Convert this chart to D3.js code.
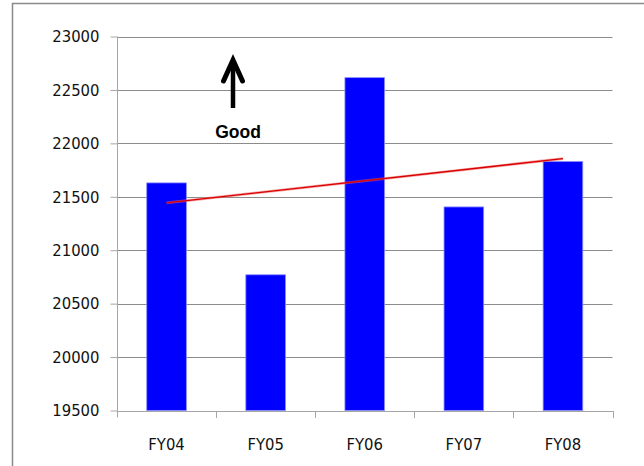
<!DOCTYPE html>
<html>
<head>
<meta charset="utf-8">
<script src="https://cdn.jsdelivr.net/npm/d3@7/dist/d3.min.js"></script>
<style>
  html, body { margin: 0; padding: 0; background: #fff; }
  svg { display: block; }
</style>
</head>
<body>
<script>
// Fiscal-year totals
const categories = ["FY04", "FY05", "FY06", "FY07", "FY08"];
const values = [21630, 20770, 22615, 21405, 21830];
const yTicks = [19500, 20000, 20500, 21000, 21500, 22000, 22500, 23000];
const annotation = ["Good"];

const W = 644, H = 466;
const svg = d3.select("body").append("svg").attr("width", W).attr("height", H);

// outer frame (open on the right and bottom)
svg.append("path")
  .attr("d", `M12.5,${H + 2} V3.5 H${W + 2}`)
  .attr("fill", "none").attr("stroke", "#8a8a8a").attr("stroke-width", 1.5);

const plot = { left: 117, right: 612.5, top: 36.5, bottom: 410.5 };

const x = d3.scaleBand().domain(categories).range([plot.left, plot.right]).padding(0);
const y = d3.scaleLinear().domain([19500, 23000]).range([plot.bottom, plot.top]);

// horizontal gridlines
svg.append("g")
  .selectAll("line").data(yTicks.filter(t => t > 19500)).join("line")
  .attr("x1", plot.left).attr("x2", plot.right)
  .attr("y1", d => Math.round(y(d)) + 0.5).attr("y2", d => Math.round(y(d)) + 0.5)
  .attr("stroke", "#8c8c8c").attr("stroke-width", 1);

// value axis
const yAxis = svg.append("g")
  .attr("transform", `translate(${plot.left + 0.5},0)`)
  .call(d3.axisLeft(y).tickValues(yTicks).tickFormat(d3.format("d"))
    .tickSizeInner(7).tickSizeOuter(0).tickPadding(11));
yAxis.select(".domain").attr("stroke", "#a6a6a6").attr("d", `M0,${plot.top} V${plot.bottom + 7}`);
yAxis.selectAll(".tick line").attr("stroke", "#a6a6a6");
yAxis.selectAll("text")
  .attr("font-family", "'DejaVu Sans Condensed', 'DejaVu Sans', sans-serif")
  .attr("font-size", 16.5).attr("fill", "#111");

// bars
const barW = x.bandwidth() * 0.4;
svg.append("g")
  .selectAll("rect").data(values).join("rect")
  .attr("x", (d, i) => x(categories[i]) + (x.bandwidth() - barW) / 2)
  .attr("width", barW)
  .attr("y", d => y(d))
  .attr("height", d => y(19500) - y(d))
  .attr("fill", "#0000ff")
  .attr("stroke", "#8c8cff").attr("stroke-width", 0.8);

// category axis: ticks at band boundaries, labels at band centers
const xAxis = svg.append("g")
  .attr("transform", `translate(0,${plot.bottom + 0.5})`)
  .call(d3.axisBottom(x).tickSize(0).tickPadding(27));
xAxis.select(".domain").attr("stroke", "#a6a6a6");
xAxis.selectAll("text")
  .attr("font-family", "'DejaVu Sans Condensed', 'DejaVu Sans', sans-serif")
  .attr("font-size", 16.5).attr("fill", "#111");
const bounds = categories.map(c => x(c)).concat([x(categories[categories.length - 1]) + x.bandwidth()]);
xAxis.selectAll("line.boundary").data(bounds.slice(1)).join("line")
  .attr("class", "boundary")
  .attr("x1", d => Math.round(d) + 0.5).attr("x2", d => Math.round(d) + 0.5)
  .attr("y1", 0).attr("y2", 7)
  .attr("stroke", "#a6a6a6");

// linear trend line (least squares over the bar values)
const n = values.length;
const xs = d3.range(1, n + 1);
const mx = d3.mean(xs), my = d3.mean(values);
const slope = d3.sum(xs, (v, i) => (v - mx) * (values[i] - my)) / d3.sum(xs, v => (v - mx) ** 2);
const fit = v => my + slope * (v - mx);
const trend = [
  [x(categories[0]) + x.bandwidth() / 2, y(fit(1))],
  [x(categories[n - 1]) + x.bandwidth() / 2, y(fit(n))]
];
svg.append("path").attr("d", d3.line()(trend))
  .attr("stroke", "#f06060").attr("stroke-width", 2.8).attr("stroke-opacity", 0.55).attr("fill", "none");
svg.append("path").attr("d", d3.line()(trend))
  .attr("stroke", "#d80000").attr("stroke-width", 1.4).attr("fill", "none");

// "higher is better" marker
const ax = 233, aTop = 58, aBottom = 108;
svg.append("line")
  .attr("x1", ax).attr("x2", ax).attr("y1", aBottom).attr("y2", aTop + 6)
  .attr("stroke", "#000").attr("stroke-width", 4.5);
svg.append("path")
  .attr("d", `M${ax - 9.5},${aTop + 23} L${ax},${aTop + 2} L${ax + 9.5},${aTop + 23}`)
  .attr("fill", "none").attr("stroke", "#000").attr("stroke-width", 5)
  .attr("stroke-linejoin", "miter").attr("stroke-linecap", "round");
svg.append("text")
  .attr("x", 238).attr("y", 137.5).attr("text-anchor", "middle")
  .attr("font-family", "'Liberation Sans', Arial, sans-serif")
  .attr("font-weight", "bold").attr("font-size", 17.5).attr("fill", "#000")
  .text(annotation[0]);
</script>
</body>
</html>
